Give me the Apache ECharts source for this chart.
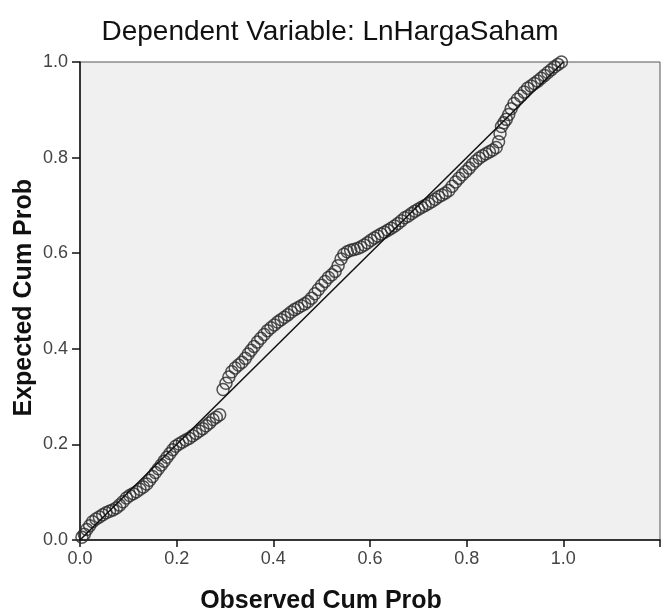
<!DOCTYPE html>
<html><head><meta charset="utf-8">
<script src="https://cdn.jsdelivr.net/npm/echarts@6.0.0/dist/echarts.min.js"></script>
<style>html,body{margin:0;padding:0;background:#fff}#c{width:667px;height:614px}</style>
</head><body><div id="c"></div><script>
const chartTitle = 'Dependent Variable: LnHargaSaham';
const xTitle = 'Observed Cum Prob';
const yTitle = 'Expected Cum Prob';
const observed = [0.004,0.009,0.014,0.020,0.026,0.033,0.040,0.047,0.054,0.061,0.068,0.075,0.082,0.089,0.096,0.103,0.110,0.117,0.124,0.131,0.138,0.144,0.150,0.156,0.162,0.168,0.174,0.180,0.186,0.192,0.198,0.205,0.212,0.219,0.226,0.233,0.240,0.247,0.254,0.261,0.268,0.275,0.282,0.289,0.296,0.302,0.308,0.314,0.321,0.328,0.335,0.342,0.348,0.354,0.360,0.367,0.374,0.381,0.388,0.395,0.402,0.409,0.416,0.423,0.430,0.437,0.444,0.451,0.458,0.465,0.472,0.479,0.486,0.493,0.500,0.507,0.514,0.521,0.528,0.534,0.540,0.546,0.553,0.560,0.567,0.574,0.581,0.588,0.595,0.602,0.609,0.616,0.623,0.630,0.637,0.644,0.651,0.658,0.665,0.672,0.679,0.686,0.693,0.700,0.707,0.714,0.721,0.728,0.735,0.742,0.749,0.756,0.763,0.770,0.777,0.784,0.791,0.798,0.805,0.812,0.819,0.826,0.833,0.840,0.847,0.854,0.861,0.866,0.869,0.872,0.877,0.882,0.887,0.892,0.898,0.905,0.912,0.919,0.926,0.933,0.940,0.947,0.954,0.961,0.968,0.975,0.982,0.989,0.996];
const expected = [0.006,0.012,0.022,0.030,0.038,0.044,0.048,0.053,0.057,0.060,0.063,0.067,0.073,0.080,0.088,0.093,0.097,0.101,0.106,0.111,0.117,0.125,0.133,0.141,0.149,0.157,0.165,0.173,0.181,0.189,0.196,0.201,0.205,0.209,0.213,0.218,0.223,0.228,0.233,0.239,0.245,0.252,0.257,0.262,0.315,0.328,0.341,0.352,0.360,0.366,0.372,0.380,0.389,0.397,0.405,0.414,0.422,0.430,0.438,0.444,0.450,0.456,0.461,0.466,0.471,0.477,0.482,0.486,0.490,0.494,0.499,0.506,0.515,0.524,0.533,0.541,0.549,0.555,0.562,0.574,0.588,0.598,0.603,0.606,0.608,0.610,0.613,0.617,0.622,0.627,0.632,0.636,0.640,0.644,0.648,0.652,0.657,0.662,0.668,0.674,0.678,0.683,0.688,0.692,0.696,0.700,0.704,0.708,0.713,0.718,0.722,0.726,0.731,0.740,0.749,0.757,0.764,0.771,0.778,0.786,0.793,0.799,0.804,0.808,0.812,0.816,0.821,0.833,0.850,0.865,0.873,0.880,0.890,0.902,0.913,0.922,0.929,0.937,0.945,0.950,0.955,0.960,0.966,0.972,0.978,0.984,0.990,0.995,1.000];
const diagonal = [[0,0],[1,1]];
const xTickMax = 1.0;

const points = observed.map((v,i)=>[v, expected[i]]);
const font = 'Arial, "Liberation Sans", sans-serif';
const chart = echarts.init(document.getElementById('c'), null, {renderer:'canvas'});
chart.setOption({
  backgroundColor:'#fff',
  animation:false,
  title:[
    {text:chartTitle, left:325, top:13, textAlign:'center',
     textStyle:{fontFamily:font, fontSize:28, fontWeight:'normal', color:'#111'}},
    {text:xTitle, left:316, top:584, textAlign:'center',
     textStyle:{fontFamily:font, fontSize:25, fontWeight:'bold', color:'#111'}}
  ],
  graphic:[{type:'text', left:12, top:179, rotation:Math.PI/2,
    style:{text:yTitle, font:'bold 25px '+font, fill:'#111'}}],
  grid:{left:80, right:7, top:62, bottom:74, show:true, backgroundColor:'#f0f0f0', borderColor:'#555', borderWidth:1},
  xAxis:{type:'value', min:0, max:1.2, interval:0.2,
    axisLine:{show:true, lineStyle:{color:'#111', width:1.5}},
    axisTick:{show:true, length:7, lineStyle:{color:'#111', width:1.5}},
    axisLabel:{margin:10, fontFamily:font, fontSize:18, color:'#444',
      formatter:v=> v > xTickMax + 1e-6 ? '' : v.toFixed(1)},
    splitLine:{show:false}},
  yAxis:{type:'value', min:0, max:1, interval:0.2,
    axisLine:{show:true, lineStyle:{color:'#111', width:1.5}},
    axisTick:{show:true, length:8, lineStyle:{color:'#111', width:1.5}},
    axisLabel:{margin:12, fontFamily:font, fontSize:18, color:'#444', formatter:v=>v.toFixed(1)},
    splitLine:{show:false}},
  series:[
    {type:'line', data:diagonal, symbol:'none', lineStyle:{color:'#111', width:1.5}, z:3, silent:true},
    {type:'scatter', data:points, symbol:'circle', symbolSize:12, z:2,
     itemStyle:{color:'rgba(0,0,0,0)', borderColor:'#2a2a2a', borderWidth:1.5}}
  ]
});
</script></body></html>
